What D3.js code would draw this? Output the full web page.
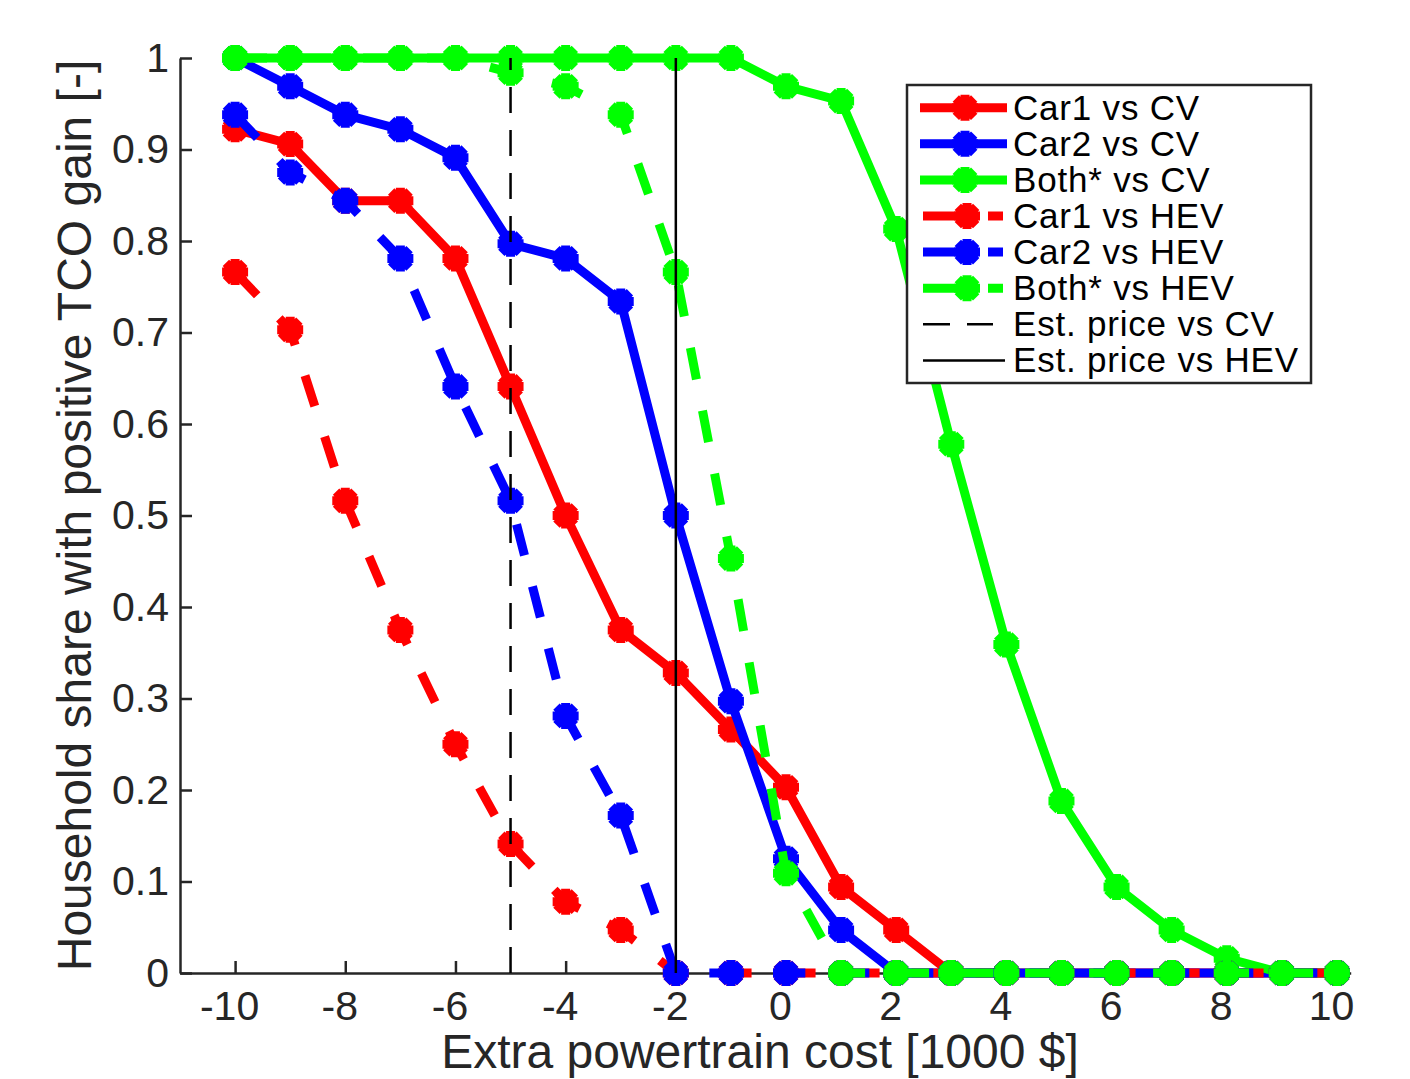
<!DOCTYPE html>
<html>
<head>
<meta charset="utf-8">
<script src="https://cdn.jsdelivr.net/npm/d3@7"></script>
<style>
  html, body { margin: 0; padding: 0; background: #fff; }
  svg { display: block; }
</style>
</head>
<body>
<svg id="chart" width="1410" height="1079"></svg>
<script>
// ---------------- DATA ----------------
const xValues = [-10, -9, -8, -7, -6, -5, -4, -3, -2, -1, 0, 1, 2, 3, 4, 5, 6, 7, 8, 9, 10];

const car1VsCV  = [0.922, 0.906, 0.844, 0.844, 0.781, 0.641, 0.5, 0.375, 0.328, 0.266, 0.203, 0.094, 0.047, 0, 0, 0, 0, 0, 0, 0, 0];
const car2VsCV  = [1, 0.969, 0.938, 0.922, 0.891, 0.797, 0.781, 0.734, 0.5, 0.297, 0.125, 0.047, 0, 0, 0, 0, 0, 0, 0, 0, 0];
const bothVsCV  = [1, 1, 1, 1, 1, 1, 1, 1, 1, 1, 0.969, 0.953, 0.813, 0.578, 0.359, 0.188, 0.094, 0.047, 0.016, 0, 0];
const car1VsHEV = [0.766, 0.703, 0.516, 0.375, 0.25, 0.141, 0.078, 0.047, 0, 0, 0, 0, 0, 0, 0, 0, 0, 0, 0, 0, 0];
const car2VsHEV = [0.938, 0.875, 0.844, 0.781, 0.641, 0.516, 0.281, 0.172, 0, 0, 0, 0, 0, 0, 0, 0, 0, 0, 0, 0, 0];
const bothVsHEV = [1, 1, 1, 1, 1, 0.984, 0.969, 0.938, 0.766, 0.453, 0.109, 0, 0, 0, 0, 0, 0, 0, 0, 0, 0];

const seriesNames = ["Car1 vs CV", "Car2 vs CV", "Both* vs CV", "Car1 vs HEV", "Car2 vs HEV", "Both* vs HEV"];
const estPriceNames = ["Est. price vs CV", "Est. price vs HEV"];
const estPriceValues = [-5, -2];

const xTickValues = [-10, -8, -6, -4, -2, 0, 2, 4, 6, 8, 10];
const xTickLabels = ["-10", "-8", "-6", "-4", "-2", "0", "2", "4", "6", "8", "10"];
const yTickValues = [0, 0.1, 0.2, 0.3, 0.4, 0.5, 0.6, 0.7, 0.8, 0.9, 1];
const yTickLabels = ["0", "0.1", "0.2", "0.3", "0.4", "0.5", "0.6", "0.7", "0.8", "0.9", "1"];

const xTitle = "Extra powertrain cost [1000 $]";
const yTitle = "Household share with positive TCO gain [-]";

// ---------------- STYLE / LAYOUT ----------------
const seriesValues = [car1VsCV, car2VsCV, bothVsCV, car1VsHEV, car2VsHEV, bothVsHEV];
const seriesColors = ["#ff0000", "#0000ff", "#00ff00", "#ff0000", "#0000ff", "#00ff00"];
const seriesDashed = [false, false, false, true, true, true];
const estDashed = [true, false];

const FONT = "'Liberation Sans', Arial, Helvetica, sans-serif";
const AXIS_COLOR = "#262626";
const LINE_W = 9;
const MARK_R = 13;

const svg = d3.select("#chart");
svg.append("rect").attr("width", 1410).attr("height", 1079).attr("fill", "#fff");

const x = d3.scaleLinear().domain([-11, 10.25]).range([180, 1350.7]);
const y = d3.scaleLinear().domain([0, 1]).range([973, 58]);

// asterisk marker path (MATLAB '*' drawn with thick line)
const d45 = MARK_R * Math.SQRT1_2;
const markerPath = `M${-MARK_R},0H${MARK_R}M0,${-MARK_R}V${MARK_R}` +
  `M${-d45},${-d45}L${d45},${d45}M${-d45},${d45}L${d45},${-d45}`;

// ---------------- AXES ----------------
const xAxis = d3.axisBottom(x)
  .tickValues(xTickValues)
  .tickFormat((d, i) => xTickLabels[i])
  .tickSizeInner(-12).tickSizeOuter(0).tickPadding(18);
const yAxis = d3.axisLeft(y)
  .tickValues(yTickValues)
  .tickFormat((d, i) => yTickLabels[i])
  .tickSizeInner(-12).tickSizeOuter(0).tickPadding(11);

const gx = svg.append("g").attr("transform", `translate(0,${y(0)})`).call(xAxis);
const gy = svg.append("g").attr("transform", `translate(${x(-11)},0)`).call(yAxis);
[gx, gy].forEach(g => {
  g.select(".domain").attr("stroke", AXIS_COLOR).attr("stroke-width", 2.5);
  g.selectAll(".tick line").attr("stroke", AXIS_COLOR).attr("stroke-width", 2.5);
  g.selectAll(".tick text").attr("fill", AXIS_COLOR)
    .style("font-family", FONT).style("font-size", "41px");
});
gx.selectAll(".tick text").attr("dx", -6);

// axis titles
svg.append("text")
  .attr("x", 760).attr("y", 1068)
  .attr("text-anchor", "middle")
  .attr("fill", AXIS_COLOR)
  .style("font-family", FONT).style("font-size", "48px")
  .text(xTitle);
svg.append("text")
  .attr("transform", `translate(91,${(y(0) + y(1)) / 2}) rotate(-90)`)
  .attr("text-anchor", "middle")
  .attr("fill", AXIS_COLOR)
  .style("font-family", FONT).style("font-size", "48px")
  .text(yTitle);

// ---------------- SERIES ----------------
const line = d3.line().x(d => x(d[0])).y(d => y(d[1]));
const plot = svg.append("g");

seriesValues.forEach((vals, i) => {
  const pts = xValues.map((xv, k) => [xv, vals[k]]);
  const g = plot.append("g");
  g.append("path")
    .attr("d", line(pts))
    .attr("fill", "none")
    .attr("stroke", seriesColors[i])
    .attr("stroke-width", LINE_W)
    .attr("stroke-linejoin", "miter")
    .attr("stroke-dasharray", seriesDashed[i] ? "32,32" : null);
  g.selectAll("path.mk").data(pts).join("path")
    .attr("class", "mk")
    .attr("d", markerPath)
    .attr("transform", d => `translate(${x(d[0])},${y(d[1])})`)
    .attr("fill", "none")
    .attr("stroke", seriesColors[i])
    .attr("stroke-width", LINE_W);
});

// estimated price vertical lines
estPriceValues.forEach((v, i) => {
  plot.append("line")
    .attr("x1", x(v)).attr("x2", x(v))
    .attr("y1", y(0)).attr("y2", y(1))
    .attr("stroke", "#000")
    .attr("stroke-width", 2.5)
    .attr("stroke-dasharray", estDashed[i] ? "26,17" : null);
});

// ---------------- LEGEND ----------------
const leg = svg.append("g");
leg.append("rect")
  .attr("x", 907).attr("y", 85).attr("width", 404).attr("height", 298)
  .attr("fill", "#fff").attr("stroke", AXIS_COLOR).attr("stroke-width", 2.5);

const rowY = i => 107.7 + i * 36.1;
seriesNames.forEach((name, i) => {
  const cy = rowY(i);
  const g = leg.append("g");
  if (!seriesDashed[i]) {
    g.append("line").attr("x1", 920).attr("x2", 1007).attr("y1", cy).attr("y2", cy)
      .attr("stroke", seriesColors[i]).attr("stroke-width", LINE_W);
    g.append("path").attr("d", markerPath).attr("transform", `translate(965,${cy})`)
      .attr("fill", "none").attr("stroke", seriesColors[i]).attr("stroke-width", LINE_W);
  } else {
    g.append("line").attr("x1", 923).attr("x2", 1003).attr("y1", cy).attr("y2", cy)
      .attr("stroke", seriesColors[i]).attr("stroke-width", LINE_W)
      .attr("stroke-dasharray", "55,10,15");
    g.append("path").attr("d", markerPath).attr("transform", `translate(967,${cy})`)
      .attr("fill", "none").attr("stroke", seriesColors[i]).attr("stroke-width", LINE_W);
  }
  g.append("text").attr("x", 1013).attr("y", cy + 12)
    .attr("fill", "#000")
    .style("font-family", FONT).style("font-size", "35px").style("letter-spacing", "0.8px")
    .text(name);
});
estPriceNames.forEach((name, j) => {
  const cy = rowY(seriesNames.length + j);
  leg.append("line").attr("x1", 923).attr("x2", estDashed[j] ? 993 : 1005).attr("y1", cy).attr("y2", cy)
    .attr("stroke", "#000").attr("stroke-width", 2.5)
    .attr("stroke-dasharray", estDashed[j] ? "27,17" : null);
  leg.append("text").attr("x", 1013).attr("y", cy + 12)
    .attr("fill", "#000")
    .style("font-family", FONT).style("font-size", "35px").style("letter-spacing", "0.8px")
    .text(name);
});
</script>
</body>
</html>
